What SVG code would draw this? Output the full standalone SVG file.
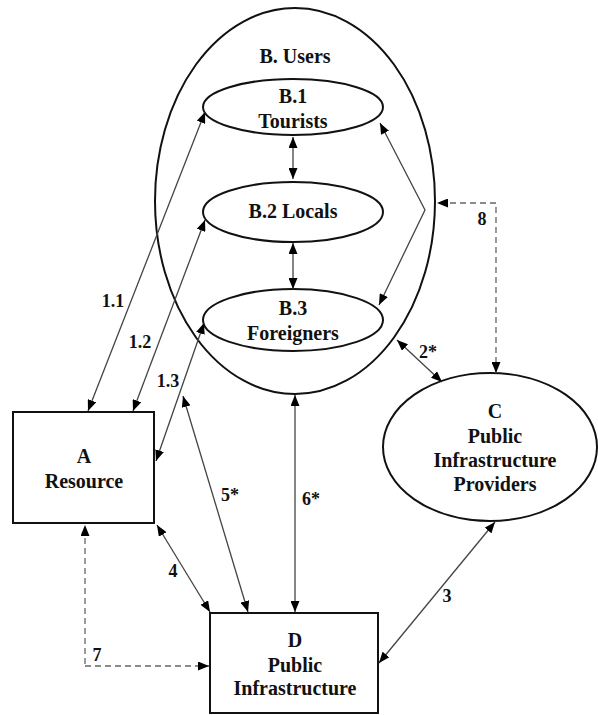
<svg xmlns="http://www.w3.org/2000/svg" width="598" height="715" viewBox="0 0 598 715">
<style>
.node{fill:#fff;stroke:#111;stroke-width:2}
.cont{fill:none;stroke:#111;stroke-width:2}
text{font-family:'Liberation Serif','DejaVu Serif','Times New Roman',serif;font-weight:bold;fill:#111;text-anchor:middle}
.t{font-size:20px}
.lbl{font-size:18px}
.c{fill:none;stroke:#444;stroke-width:1.3}
.d{fill:none;stroke:#666;stroke-width:1.3;stroke-dasharray:6 4}
</style>
<defs>
<marker id="ah" markerUnits="userSpaceOnUse" markerWidth="11" markerHeight="9" refX="11" refY="4.5" orient="auto-start-reverse">
<path d="M0,0 L11,4.5 L0,9 z" fill="#000"/>
</marker>
</defs>
<rect width="598" height="715" fill="#fff"/>
<g id="B">
<ellipse class="cont" cx="295" cy="201" rx="140" ry="193"/>
<text class="t" x="295" y="63">B. Users</text>
</g>
<g id="B1">
<ellipse class="node" cx="293" cy="107" rx="90" ry="28"/>
<text class="t" x="293" y="103">B.1</text>
<text class="t" x="293" y="128">Tourists</text>
</g>
<g id="B2">
<ellipse class="node" cx="293" cy="212" rx="90" ry="30"/>
<text class="t" x="293" y="218">B.2 Locals</text>
</g>
<g id="B3">
<ellipse class="node" cx="293" cy="320" rx="90" ry="31"/>
<text class="t" x="293" y="315">B.3</text>
<text class="t" x="293" y="340">Foreigners</text>
</g>
<g id="A">
<rect class="node" x="13" y="412" width="141" height="111"/>
<text class="t" x="84" y="463">A</text>
<text class="t" x="84" y="488">Resource</text>
</g>
<g id="C">
<ellipse class="node" cx="490" cy="447" rx="107" ry="74"/>
<text class="t" x="495" y="418">C</text>
<text class="t" x="495" y="443">Public</text>
<text class="t" x="495" y="467">Infrastructure</text>
<text class="t" x="495" y="491">Providers</text>
</g>
<g id="D">
<rect class="node" x="210" y="613" width="168" height="100"/>
<text class="t" x="295" y="647">D</text>
<text class="t" x="295" y="672">Public</text>
<text class="t" x="295" y="695">Infrastructure</text>
</g>
<g id="connectors">
<path class="c" d="M293,137 L293,179" marker-start="url(#ah)" marker-end="url(#ah)"/>
<path class="c" d="M293,243 L293,289" marker-start="url(#ah)" marker-end="url(#ah)"/>
<path class="c" d="M88,411 L205,112" marker-start="url(#ah)" marker-end="url(#ah)"/>
<path class="c" d="M133,411 L205,220" marker-start="url(#ah)" marker-end="url(#ah)"/>
<path class="c" d="M156,461 L204,323" marker-start="url(#ah)" marker-end="url(#ah)"/>
<path class="c" d="M183,396 L248,612" marker-start="url(#ah)" marker-end="url(#ah)"/>
<path class="c" d="M295,395 L295,612" marker-start="url(#ah)" marker-end="url(#ah)"/>
<path class="c" d="M157,525 L210,612" marker-start="url(#ah)" marker-end="url(#ah)"/>
<path class="c" d="M379,663 L495,522" marker-start="url(#ah)" marker-end="url(#ah)"/>
<path class="c" d="M397,340 L442,382" marker-start="url(#ah)" marker-end="url(#ah)"/>
<path class="c" d="M380,123 L425,210 L379,305" marker-start="url(#ah)" marker-end="url(#ah)"/>
<path class="d" d="M85,664 L85,525" marker-end="url(#ah)"/>
<path class="d" d="M85,666 L209,666" marker-end="url(#ah)"/>
<path class="d" d="M496,373 L496,203 L437,203" marker-start="url(#ah)" marker-end="url(#ah)"/>
<text class="lbl" x="113" y="307">1.1</text>
<text class="lbl" x="140" y="348">1.2</text>
<text class="lbl" x="168" y="387">1.3</text>
<text class="lbl" x="230" y="501">5*</text>
<text class="lbl" x="311" y="505">6*</text>
<text class="lbl" x="173" y="577">4</text>
<text class="lbl" x="97" y="661">7</text>
<text class="lbl" x="447" y="602">3</text>
<text class="lbl" x="428" y="358">2*</text>
<text class="lbl" x="482" y="225">8</text>
</g>
</svg>
